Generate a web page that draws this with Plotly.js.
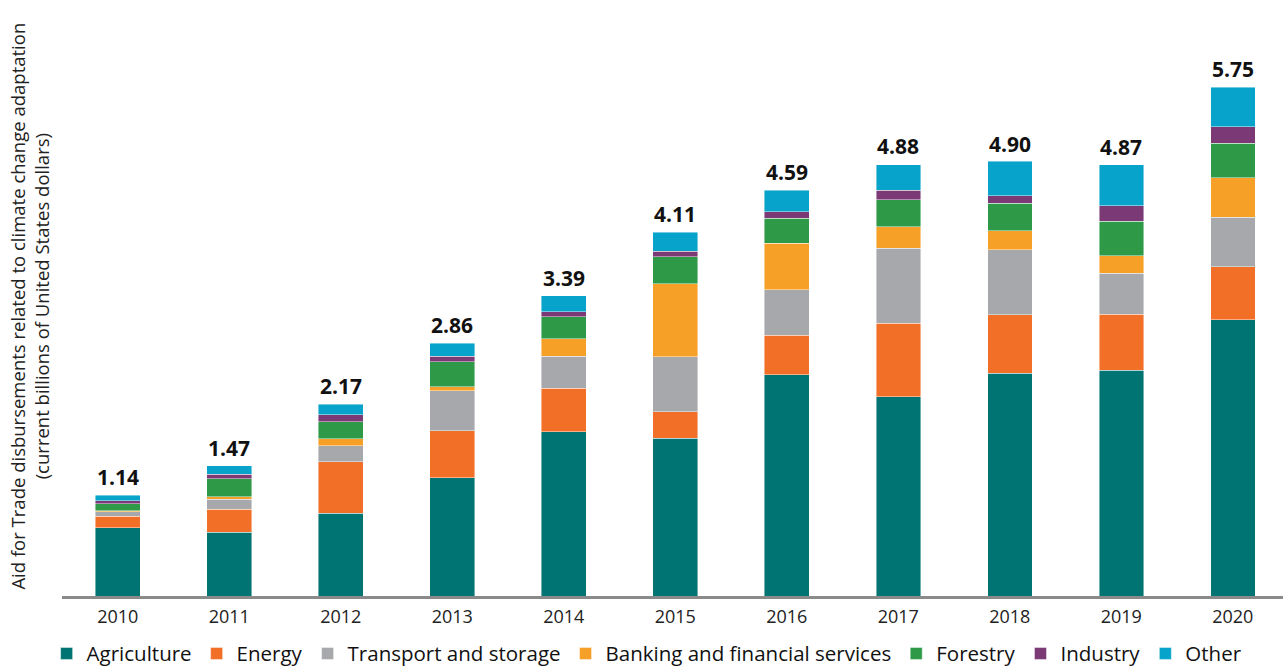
<!DOCTYPE html>
<html>
<head>
<meta charset="utf-8">
<script src="https://cdn.plot.ly/plotly-3.0.1.min.js"></script>
<style>html,body{margin:0;padding:0;background:#fff;}#chart{width:1283px;height:670px;}</style>
</head>
<body>
<div id="chart"></div>
<script>
const years = ["2010","2011","2012","2013","2014","2015","2016","2017","2018","2019","2020"];
const agriculture = [0.772,0.720,0.935,1.337,1.857,1.783,2.501,2.253,2.517,2.551,3.120];
const energy      = [0.132,0.263,0.583,0.528,0.491,0.301,0.445,0.830,0.659,0.633,0.602];
const transport   = [0.049,0.110,0.181,0.456,0.362,0.618,0.515,0.848,0.735,0.463,0.557];
const banking     = [0.008,0.026,0.076,0.045,0.196,0.829,0.524,0.244,0.215,0.199,0.448];
const forestry    = [0.083,0.207,0.196,0.279,0.249,0.302,0.283,0.302,0.313,0.389,0.389];
const industry    = [0.030,0.050,0.079,0.064,0.057,0.064,0.075,0.110,0.083,0.173,0.184];
const other       = [0.064,0.094,0.118,0.147,0.180,0.215,0.242,0.286,0.392,0.463,0.449];
const totals      = [1.14,1.47,2.17,2.86,3.39,4.11,4.59,4.88,4.90,4.87,5.75];
const totalLabels = ["1.14","1.47","2.17","2.86","3.39","4.11","4.59","4.88","4.90","4.87","5.75"];

const seriesNames = ["Agriculture","Energy","Transport and storage","Banking and financial services","Forestry","Industry","Other"];
const seriesData = [agriculture,energy,transport,banking,forestry,industry,other];
const colors = ["#007472","#F26F28","#A7A8AB","#F7A028","#2E9A48","#7B3A76","#07A3CB"];

const traces = seriesNames.map((n,i)=>({
  type:'bar', name:n, x:years, y:seriesData[i],
  marker:{color:colors[i], line:{color:'rgba(255,255,255,0.55)', width:0.8}},
  hoverinfo:'x+y+name'
}));

const annotations = years.map((yr,i)=>({
  x:i, y:totals[i], xref:'x', yref:'y', text:'<b>'+totalLabels[i]+'</b>',
  showarrow:false, yanchor:'bottom', yshift:2,
  font:{family:'Open Sans, sans-serif', size:21, color:'#111'}
}));
annotations.push({
  xref:'paper', yref:'paper', x:-0.0262, y:0.545, xanchor:'center', yanchor:'middle',
  text:'Aid for Trade disbursements related to climate change adaptation<br>(current billions of United States dollars)',
  textangle:-90, showarrow:false,
  font:{family:'Open Sans, sans-serif', size:18.5, color:'#222'}
});

const layout = {
  width:1283, height:670,
  margin:{l:62, r:0, t:65, b:74, autoexpand:false},
  barmode:'stack', bargap:0.6,
  paper_bgcolor:'#fff', plot_bgcolor:'#fff',
  showlegend:true,
  legend:{orientation:'h', x:-0.0126, xanchor:'left', y:-0.1085, yanchor:'middle',
    font:{family:'Open Sans, sans-serif', size:20.5, color:'#111'}, traceorder:'normal',
    itemwidth:30, tracegroupgap:0},
  xaxis:{type:'category', range:[-0.5,10.45], showline:true, linecolor:'#8a8a8a', linewidth:2.5,
    ticks:'', showgrid:false, zeroline:false, ticklabelstandoff:3,
    tickfont:{family:'Open Sans, sans-serif', size:18, color:'#222'}},
  yaxis:{range:[0,6.0], showticklabels:false, showgrid:false, zeroline:false, showline:false, ticks:''},
  annotations:annotations
};

Plotly.newPlot('chart', traces, layout, {displayModeBar:false, staticPlot:true});
</script>
</body>
</html>
